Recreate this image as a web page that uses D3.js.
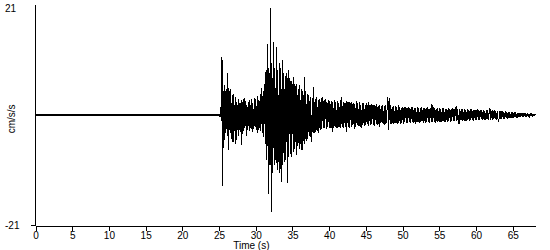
<!DOCTYPE html>
<html>
<head>
<meta charset="utf-8">
<script src="https://cdn.jsdelivr.net/npm/d3@7"></script>
<style>
  html, body { margin: 0; padding: 0; background: #fff; }
  svg { display: block; }
  text { font-family: "Liberation Sans", Arial, sans-serif; font-size: 10px; fill: #000; }
</style>
</head>
<body>
<svg id="chart" width="550" height="250"></svg>
<script>
// ---- data (cm/s/s) ----
const xTicks = [0, 5, 10, 15, 20, 25, 30, 35, 40, 45, 50, 55, 60, 65];
const yTicks = [-21, 21];
const yTickLabels = ["-21", "21"];
const xLabel = "Time (s)";
const yLabel = "cm/s/s";
const timeMax = 68.1;

// quiet record before the P arrival
const preTimes = [0, 25];
const preValues = [0, 0];

// sampled record from 25.0 s, one value every 0.1 s
const sampleStart = 25.0;
const sampleStep = 0.1;
const accel = [
  0.2, -0.3, 1.5, -1.2, 11, -13.5, 4.5, -4.8, 5.7, -3.5,
  5, -4, 8, -6.7, 4.5, -3.5, 5, -4.5, 3.8, -5.2,
  4, -3, 3.5, -5.5, 2.5, -2.8, 3, -4, 2.2, -3.2,
  2.8, -5.7, 2.5, -3, 3.2, -2.5, 2.7, -4, 2, -2.8,
  2.5, -3, 2.8, -2.4, 3, -3.2, 2.2, -2.6, 3.3, -2.2,
  3, -2.8, 3.6, -3.4, 2.8, -2.5, 4, -3, 5.2, -3.5,
  4.5, -4.2, 6, -5.5, 8.5, -8.6, 13.5, -15, 9, -9.5,
  20.4, -18.5, 10, -11, 14, -9.5, 9, -8.5, 13, -10.5,
  8.5, -9, 10, -11, 9, -12.8, 10.5, -9.5, 8, -9,
  7.5, -8.5, 8, -13, 8.6, -8, 7, -7.5, 6.5, -8,
  6, -7, 7.3, -6.5, 5.5, -7.6, 6, -6, 5, -6.5,
  5.7, -5.5, 5, -6.7, 4.5, -5, 7.3, -5.5, 4.5, -5,
  4, -4.5, 3.8, -4, 3.5, -3.8, -5.2, 3.2, -3.5, 5.3,
  -3.5, 3, -3.2, 3.5, -3, 2.8, -3.4, 3, -2.8, 3.2,
  -2.6, 3.4, -2.5, 2.8, -2.4, 3, -2.6, 2.5, -2.2, 2.8,
  -2.5, 2.7, -2.4, 2.6, -3.3, 2.4, -2.5, 2.8, -2.3, 2.5,
  -2.4, 2.6, -2.5, 2.3, -2.2, 2.8, -2.4, 3.4, -2.3, 2.5,
  -2.5, 2.2, -2.3, 2.6, -3.3, 2.4, -2.2, 2.5, -2.4, 2.3,
  -2.2, 2.5, -2.0, 2.3, -2.6, 2.1, -2.3, 2.6, -2.0, 2.2,
  -2.1, 2.4, -2.2, 2.0, -2.4, 2.2, -1.9, 2.3, -2.1, 2.0,
  -2.0, 2.2, -1.8, 2.4, -2.1, 1.9, -2.0, 2.1, -1.7, 2.0,
  -1.9, 2.0, -2.1, 1.8, -1.7, 2.1, -1.9, 1.7, -2.3, 1.9,
  -1.6, 1.8, -1.6, 2.0, -1.8, 1.7, -1.9, 2.0, -1.6, 1.8,
  3.4, -2.9, 3.2, -1.8, 1.9, -1.7, 1.6, -1.8, 1.7, -1.5,
  1.8, -1.6, 1.5, -1.7, 1.9, -1.5, 1.6, -1.8, 1.4, -1.6,
  1.5, -1.7, 1.6, -1.4, 1.5, -1.6, 1.3, -1.5, 1.6, -1.4,
  1.4, -1.6, 1.5, -1.3, 1.6, -1.5, 1.4, -1.7, 1.3, -1.4,
  1.5, -1.3, 1.4, -1.6, 1.3, -1.4, 1.5, -1.2, 1.4, -1.5,
  1.3, -1.5, 1.4, -1.3, 1.6, -1.4, 1.2, -1.5, 1.3, -1.3,
  2.1, -1.4, 1.5, -1.3, 1.4, -1.5, 1.2, -1.4, 1.3, -1.2,
  1.3, -1.4, 1.2, -1.3, 1.4, -1.2, 1.3, -1.4, 1.1, -1.3,
  1.2, -1.3, 1.3, -1.1, 1.2, -1.4, 1.1, -1.2, 1.3, -1.1,
  1.2, -1.1, 1.3, 1.7, -1.2, 1.1, -1.2, -1.7, 1.1, -1.0,
  1.1, -1.2, 1.2, -1.0, 1.1, -1.2, 1.0, -1.1, 1.2, -1.0,
  1.0, -1.1, 1.2, -1.0, 1.1, -0.9, 1.0, -1.1, 0.9, -1.0,
  1.0, -0.9, 1.1, -1.0, 0.9, -1.0, 1.0, -0.8, 0.9, -1.0,
  0.9, -1.0, 0.8, -0.9, 1.0, -0.8, 0.9, -1.0, 0.8, 1.3,
  -0.9, 0.8, -0.9, 0.9, -0.8, 0.9, -0.7, 0.8, -0.9, 0.7,
  -0.8, -1.3, 0.7, -0.8, 0.8, -0.7, 0.7, -0.8, 0.6, -0.7,
  0.7, -0.6, 0.6, -0.7, 0.6, -0.6, 0.5, -0.6, 0.6, -0.5,
  0.5, -0.5, 0.6, -0.4, 0.5, -0.5, 0.4, -0.5, 0.4, -0.4,
  0.4, -0.4, 0.3, -0.4, 0.4, -0.3, 0.3, -0.3, 0.3, -0.3,
  0.3, -0.2, 0.2, -0.3, 0.2, -0.2, 0.2, -0.2, 0.1, -0.1,
  0.1, 0
];

// ---- drawing ----
const svg = d3.select("#chart");
const x = d3.scaleLinear().domain([0, timeMax]).range([35.5, 535.5]);
const y = d3.scaleLinear().domain([-21, 21]).range([225, 5]);

const line = d3.line().x(d => x(d[0])).y(d => y(d[1]));

// pre-event baseline
const pre = preTimes.map((t, i) => [t, preValues[i]]);
svg.append("path")
  .attr("d", line(pre))
  .attr("fill", "none")
  .attr("stroke", "#000")
  .attr("stroke-width", 2);

// main record
const rec = accel.map((v, i) => [sampleStart + i * sampleStep, v]);
rec.unshift([preTimes[preTimes.length - 1], preValues[preValues.length - 1]]);
svg.append("path")
  .attr("d", line(rec))
  .attr("fill", "none")
  .attr("stroke", "#000")
  .attr("stroke-width", 1)
  .attr("shape-rendering", "crispEdges");

// x axis
const gx = svg.append("g")
  .attr("transform", "translate(0,225.5)")
  .call(d3.axisBottom(x).tickValues(xTicks).tickSize(5).tickSizeOuter(0).tickFormat(d => String(d)));
gx.selectAll("line, path").attr("stroke", "#000").attr("shape-rendering", "crispEdges");
gx.selectAll("text").attr("y", 13.5).attr("dy", null).style("font-size", "10px");

// y axis
const gy = svg.append("g")
  .attr("transform", "translate(35.5,0)")
  .call(d3.axisLeft(y).tickValues(yTicks).tickSize(5).tickSizeOuter(0)
    .tickFormat((d, i) => yTickLabels[i]));
gy.selectAll("line, path").attr("stroke", "#000").attr("shape-rendering", "crispEdges");
gy.select(".domain").attr("d", `M0,${y(21)}V${y(-21) + 0.5}`);
gy.selectAll(".tick").attr("transform", d => `translate(0,${d > 0 ? y(d) : y(d) + 0.5})`);
gy.selectAll(".tick line").attr("x2", d => d > 0 ? 0 : -5);
gy.selectAll(".tick text")
  .attr("text-anchor", "start")
  .attr("x", -30.5)
  .attr("dy", null)
  .attr("y", d => d > 0 ? 7 : 3.5)
  .style("font-size", "10px");

// axis titles
svg.append("text")
  .attr("x", x(29.4))
  .attr("y", 248.5)
  .attr("text-anchor", "middle")
  .text(xLabel);

svg.append("text")
  .attr("transform", `translate(15,${y(-0.75)}) rotate(-90)`)
  .attr("text-anchor", "middle")
  .text(yLabel);
</script>
</body>
</html>
